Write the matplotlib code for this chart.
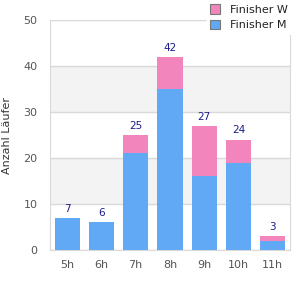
import matplotlib
matplotlib.use("Agg")
import matplotlib.pyplot as plt
import numpy as np

# Daten
zeiten = ["5h", "6h", "7h", "8h", "9h", "10h", "11h"]
finisher_m = [7, 6, 21, 35, 16, 19, 2]
finisher_w = [0, 0, 4, 7, 11, 5, 1]
gesamt = [m + w for m, w in zip(finisher_m, finisher_w)]

blau = "#62a9f5"
rosa = "#f285bb"
grau = "#d9d9d9"

fig = plt.figure(figsize=(3, 3), dpi=100)
ax = fig.add_axes([50 / 300, 50 / 300, 240 / 300, 230 / 300])

x = np.arange(len(zeiten))
ax.bar(x, finisher_m, width=0.73, color=blau, label="Finisher M", zorder=3)
ax.bar(x, finisher_w, width=0.73, bottom=finisher_m, color=rosa,
       label="Finisher W", zorder=3)

for xi, g in zip(x, gesamt):
    ax.annotate(str(g), (xi, g), xytext=(0, 3), textcoords="offset points",
                ha="center", va="bottom", fontsize=7.5, color="#1c1c8a")

# abwechselnde Hintergrundbänder
for lo in (10, 30):
    ax.axhspan(lo, lo + 10, color="#f3f3f3", zorder=0, lw=0)
ax.set_ylim(0, 50)
ax.set_xlim(-0.5, len(zeiten) - 0.5)
ax.set_yticks(range(0, 51, 10))
ax.yaxis.grid(True, color=grau, lw=1, zorder=1)
ax.set_axisbelow(True)

ax.set_xticks(x)
ax.set_xticklabels(zeiten)
ax.tick_params(axis="both", length=0, labelsize=8, colors="#555555")
ax.tick_params(axis="y", pad=9)
ax.tick_params(axis="x", pad=7)

for s in ("left", "bottom", "right"):
    ax.spines[s].set_color(grau)
ax.spines["top"].set_visible(False)

ax.set_ylabel("Anzahl Läufer", fontsize=8, color="#333333", labelpad=8)

h, l = ax.get_legend_handles_labels()
leg = fig.legend(h[::-1], l[::-1], loc="upper right", bbox_to_anchor=(0.975, 1.0),
                 fontsize=8, frameon=True, facecolor="white", edgecolor="white",
                 framealpha=1, handlelength=0.9, handleheight=0.9,
                 handletextpad=0.9, labelspacing=0.45, borderpad=0.3,
                 borderaxespad=0.1)
for p in leg.get_patches():
    p.set_edgecolor("#777777")
    p.set_linewidth(0.8)
for t in leg.get_texts():
    t.set_color("#222222")

fig.savefig("out.png", dpi=100)
